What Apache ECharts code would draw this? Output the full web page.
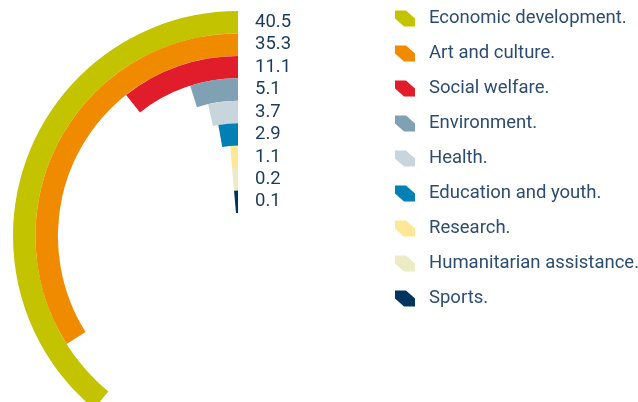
<!DOCTYPE html>
<html>
<head>
<meta charset="utf-8">
<script src="https://cdn.jsdelivr.net/npm/echarts@6/dist/echarts.min.js"></script>
<style>html,body{margin:0;padding:0;background:#fff}#c{width:638px;height:402px}</style>
</head>
<body>
<div id="c"></div>
<script>
var categories = ['Economic development.', 'Art and culture.', 'Social welfare.', 'Environment.', 'Health.', 'Education and youth.', 'Research.', 'Humanitarian assistance.', 'Sports.'];
var values = [40.5, 35.3, 11.1, 5.1, 3.7, 2.9, 1.1, 0.2, 0.1];
var valueLabels = ['40.5', '35.3', '11.1', '5.1', '3.7', '2.9', '1.1', '0.2', '0.1'];
var colors = ['#c3c300', '#f08b00', '#e21d2b', '#7fa1b3', '#c9d5dd', '#0080b5', '#fde898', '#ecebc6', '#00345f'];

var chart = echarts.init(document.getElementById('c'), null, {renderer: 'canvas'});
var icon = 'path://M0,0 L11,0 L20,8 L20,16 L9,16 L0,8 Z';
var series = categories.map(function (name, i) {
  var d = categories.map(function (_, j) { return j === i ? values[i] : '-'; });
  return {
    type: 'bar',
    name: name,
    coordinateSystem: 'polar',
    data: d,
    barGap: '-100%',
    barCategoryGap: '0%',
    barMinAngle: 5,
    itemStyle: {color: colors[i]},
    emphasis: {disabled: true},
    animation: false
  };
});
chart.setOption({
  animation: false,
  color: colors,
  polar: {center: [238, 236], radius: [23, 225]},
  angleAxis: {
    type: 'value', min: 0, max: 104, startAngle: 90, clockwise: false,
    axisLine: {show: false}, axisTick: {show: false}, axisLabel: {show: false}, splitLine: {show: false}
  },
  radiusAxis: {
    type: 'category', data: categories, inverse: true,
    axisLine: {show: false}, axisTick: {show: false}, splitLine: {show: false},
    axisLabel: {
      show: true, interval: 0, margin: -17, align: 'left', color: '#1a3a5c', fontSize: 18.5, fontFamily: 'Roboto',
      formatter: function (v, i) { return valueLabels[i]; }
    }
  },
  legend: {
    orient: 'vertical', left: 395, top: 9, padding: 0, itemWidth: 20, itemHeight: 16, itemGap: 16,
    icon: icon, selectedMode: false,
    textStyle: {color: '#2c4d70', fontSize: 18.5, fontFamily: 'Roboto', padding: [0, 0, 0, 9]},
    data: categories
  },
  series: series
});
</script>
</body>
</html>
